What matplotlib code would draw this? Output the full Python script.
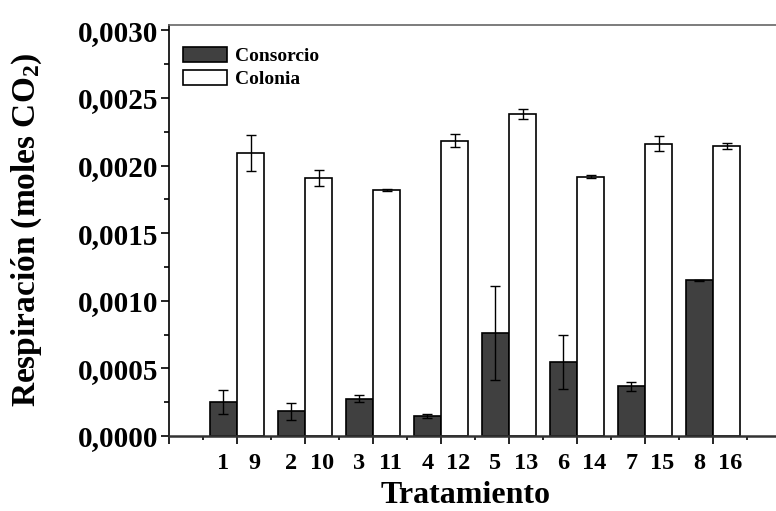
import matplotlib
matplotlib.use('Agg')
import matplotlib.pyplot as plt
import matplotlib.ticker as ticker
import numpy as np

plt.rcParams['font.family'] = ['Liberation Serif', 'DejaVu Serif']
plt.rcParams['font.weight'] = 'bold'
plt.rcParams['mathtext.fontset'] = 'custom'
plt.rcParams['mathtext.rm'] = 'Liberation Serif:bold'
plt.rcParams['mathtext.default'] = 'rm'

# respiracion por tratamiento (moles CO2), media y desviacion
consorcio_ids = ['1', '2', '3', '4', '5', '6', '7', '8']
colonia_ids = ['9', '10', '11', '12', '13', '14', '15', '16']
consorcio = [0.000251, 0.000182, 0.000276, 0.000145, 0.000759, 0.000549, 0.000367, 0.001151]
consorcio_err = [0.000090, 0.000064, 0.000025, 0.000015, 0.000347, 0.000200, 0.000032, 0.000003]
colonia = [0.002092, 0.001909, 0.001820, 0.002185, 0.002378, 0.001917, 0.002163, 0.002146]
colonia_err = [0.000135, 0.000060, 0.000007, 0.000050, 0.000037, 0.000010, 0.000057, 0.000022]

fig = plt.figure(figsize=(7.76, 5.11), dpi=100)
ax = fig.add_axes([0.2178, 0.1468, 0.7887, 0.8043])

x = np.arange(1, len(consorcio) + 1)
w = 0.4
ax.bar(x - w / 2, consorcio, w, color='#404040', edgecolor='black', linewidth=1.2,
       label='Consorcio', zorder=2)
ax.bar(x + w / 2, colonia, w, color='white', edgecolor='black', linewidth=1.2,
       label='Colonia', zorder=2)
ax.errorbar(x - w / 2, consorcio, yerr=consorcio_err, fmt='none', ecolor='black',
            elinewidth=1.0, capsize=3.3, capthick=1.0, zorder=3)
ax.errorbar(x + w / 2, colonia, yerr=colonia_err, fmt='none', ecolor='black',
            elinewidth=1.0, capsize=3.3, capthick=1.0, zorder=3)

ax.set_xlim(0, 9)
ax.set_ylim(0, 0.00304)

# eje y con coma decimal
ax.yaxis.set_major_locator(ticker.MultipleLocator(0.0005))
ax.yaxis.set_minor_locator(ticker.MultipleLocator(0.00025))
ax.yaxis.set_major_formatter(ticker.FuncFormatter(lambda v, pos: f'{v:.4f}'.replace('.', ',')))
ax.tick_params(axis='y', which='major', direction='out', length=6, width=1.2,
               labelsize=21, pad=2)
ax.tick_params(axis='y', which='minor', direction='out', length=3.5, width=1.2)

# eje x: marcas largas entre barras, cortas a la mitad
ax.xaxis.set_major_locator(ticker.MultipleLocator(1))
ax.xaxis.set_minor_locator(ticker.MultipleLocator(0.5))
ax.xaxis.set_major_formatter(ticker.NullFormatter())
ax.tick_params(axis='x', which='major', direction='out', length=6, width=1.2)
ax.tick_params(axis='x', which='minor', direction='out', length=3, width=1.2)

trans = ax.get_xaxis_transform()
for xi, a, b in zip(x, consorcio_ids, colonia_ids):
    ax.text(xi - w / 2, -0.0803, a, transform=trans, ha='center', va='baseline',
            fontsize=17.5, fontweight='bold')
    ax.text(xi + w / 2 + 0.05, -0.0803, b, transform=trans, ha='center', va='baseline',
            fontsize=17.5, fontweight='bold')

ax.spines['left'].set_linewidth(1.2)
ax.spines['left'].set_color('black')
ax.spines['bottom'].set_linewidth(1.8)
ax.spines['bottom'].set_color('#333333')
ax.spines['top'].set_linewidth(1.2)
ax.spines['top'].set_color('#666666')
ax.spines['right'].set_visible(False)

ax.legend(loc='upper left', frameon=False, fontsize=14, handlelength=2.3,
          handleheight=0.8, handletextpad=0.4, labelspacing=0.25,
          borderaxespad=0.3, bbox_to_anchor=(0.0, 0.98))

fig.text(466 / 776, 1 - 503 / 511, 'Tratamiento', ha='center', va='baseline',
         fontsize=23, fontweight='bold')
fig.text(27 / 776, 1 - 230 / 511, 'Respiración (moles CO$_2$)', ha='center', va='center',
         rotation=90, fontsize=24, fontweight='bold')

fig.savefig('out.png', dpi=100)
